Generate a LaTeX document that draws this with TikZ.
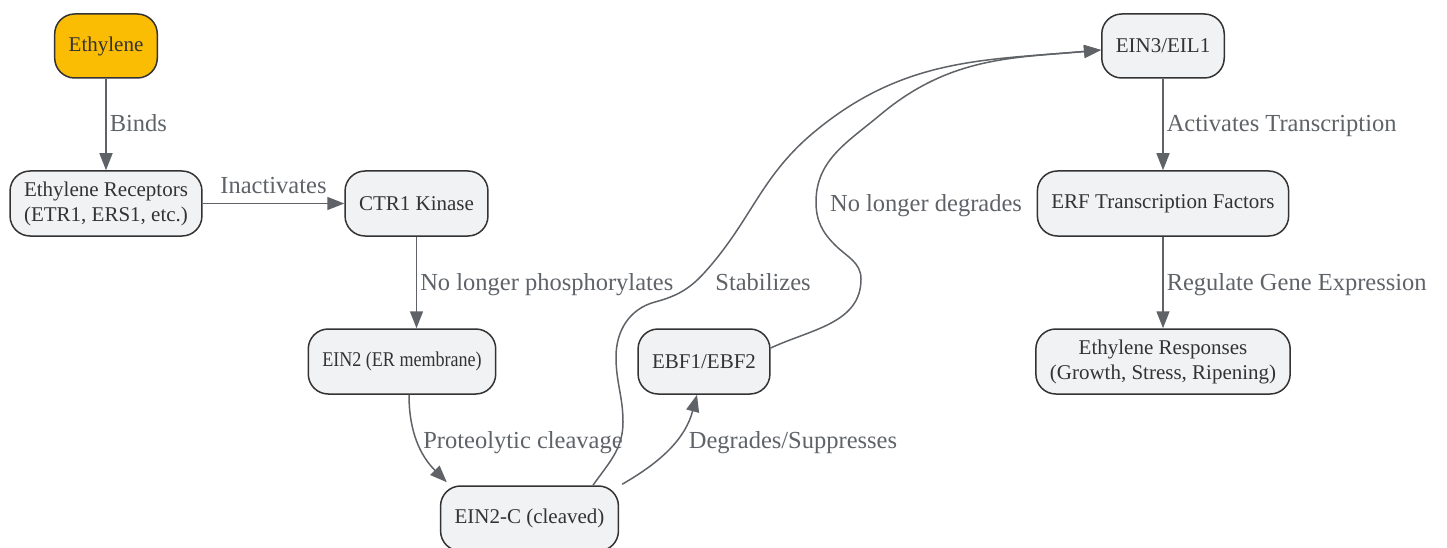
\documentclass[tikz,border=0pt]{standalone}
\usepackage{fontspec}
\usepackage{graphicx}
\setmainfont{Liberation Serif}
\usetikzlibrary{arrows.meta}
\definecolor{boxfill}{HTML}{F1F2F4}
\definecolor{boxline}{HTML}{333333}
\definecolor{edgegray}{HTML}{5F6368}
\definecolor{ethylfill}{HTML}{FBBC04}
\begin{document}
\begin{tikzpicture}[x=1pt, y=1pt,
    box/.style={draw=boxline, line width=1.5pt, fill=boxfill, rounded corners=20pt,
        minimum height=65pt, inner xsep=14pt, inner ysep=4pt, align=center,
        text=boxline, font=\fontsize{21}{25}\selectfont},
    edge/.style={draw=edgegray, line width=1.5pt, -{Triangle[length=17pt,width=13pt]}},
    lbl/.style={text=edgegray, font=\fontsize{24.5}{29}\selectfont, inner sep=3pt,
        text height=17pt, text depth=6pt, yshift=-2pt}]
    \useasboundingbox (0,0) rectangle (1447,547);

    % signalling chain
    \node[box, fill=ethylfill, minimum height=64pt] (eth) at (106,501) {Ethylene};
    \node[box] (rec) at (106,343.5) {Ethylene Receptors\\(ETR1, ERS1, etc.)};
    \node[box] (ctr) at (416.5,343.5) {CTR1 Kinase};
    \node[box] (ein2) at (402,185.5) {\scalebox{0.86}[1]{EIN2 (ER membrane)}};
    \node[box] (ein2c) at (529.5,28.5) {EIN2-C (cleaved)};
    \node[box] (ebf) at (704,185.5) {EBF1/EBF2};
    \node[box, minimum height=64pt] (ein3) at (1163,501) {EIN3/EIL1};
    \node[box] (erf) at (1163,343.5) {ERF Transcription Factors};
    \node[box] (resp) at (1163,185.5) {Ethylene Responses\\(Growth, Stress, Ripening)};

    \draw[edge] (eth) -- node[lbl, right] {Binds} (rec);
    \draw[edge] (rec) -- node[lbl, above, yshift=2pt] {Inactivates} (ctr);
    \draw[edge] (ctr.south) -- node[lbl, right] {No longer phosphorylates} (ctr.south |- ein2.north);
    \draw[edge] ([xshift=7pt]ein2.south) to[out=-90, in=135] ([xshift=7pt,yshift=3pt]ein2c.north west);
    \draw[edge] ([xshift=3pt,yshift=1pt]ein2c.north east) to[out=30, in=-105] ([xshift=-7pt]ebf.south);

    % the two long ones into EIN3
    \draw[edge] ([xshift=63.5pt]ein2c.north) to[out=55, in=-90] (623,125)
        to[out=90, in=-90] (616,190) to[out=90, in=195] (655,245)
        to[out=15, in=228] (705,275) to[out=48, in=220] (813,414)
        to[out=40, in=185] ([yshift=-4pt]ein3.west);
    \draw[edge] ([yshift=13.5pt]ebf.east) to[out=25, in=-90] (861,268)
        to[out=90, in=-45] (835,302) to[out=135, in=-90] (816,345)
        to[out=90, in=220] (880,432) to[out=40, in=185] ([yshift=-4pt]ein3.west);

    \node[lbl] (lcleave) at (523,106) {Proteolytic cleavage};
    \node[lbl] (ldegrade) at (793,106) {Degrades/Suppresses};
    \node[lbl] (lstab) at (763,264) {Stabilizes};
    \node[lbl] (lnolonger) at (926,343) {No longer degrades};

    \draw[edge] (ein3) -- node[lbl, right] {Activates Transcription} (erf);
    \draw[edge] (erf) -- node[lbl, right] {Regulate Gene Expression} (resp);
\end{tikzpicture}
\end{document}
